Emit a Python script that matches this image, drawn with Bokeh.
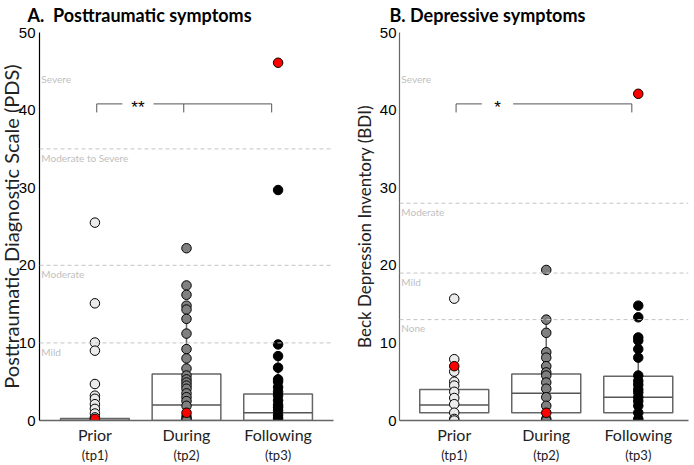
from bokeh.plotting import figure
from bokeh.models import Range1d, Span, Label, FixedTicker, LinearAxis
from bokeh.layouts import row
from bokeh.embed import file_html
from bokeh.resources import INLINE

categories = ["Prior", "During", "Following"]
timepoints = ["(tp1)", "(tp2)", "(tp3)"]
cat_x = [1, 2, 3]
y_ticks = [0, 10, 20, 30, 40, 50]

# ---- Panel A: PDS ----
pds_prior = [25.5, 15.1, 10.05, 9.0, 4.7, 3.2, 2.8, 2.1, 1.5, 0.9, 0.4, 0.0]
pds_during = [22.2, 17.4, 16.2, 14.8, 14.3, 13.1, 11.2, 9.2, 8.0, 6.7, 5.8, 5.3,
              4.9, 4.5, 4.1, 3.5, 3.0, 2.5, 1.9, 0.5, 0.2, 0.0]
pds_following = [29.7, 9.8, 8.3, 6.8, 5.3, 5.0, 4.3, 3.7, 3.2, 2.6, 2.0, 1.7,
                 1.3, 0.7, 0.3, 0.0]
pds_red = [0.2, 1.0, 46.1]
pds_q1 = [0.0, 0.0, 0.0]
pds_median = [0.0, 2.0, 1.0]
pds_q3 = [0.25, 6.0, 3.4]
pds_whisker_hi = [0.5, 14.8, 8.3]
pds_whisker_lo = [0.0, 0.0, 0.0]
pds_cutoffs = [10, 20, 35]
pds_cutoff_labels = ["Mild", "Moderate", "Moderate to Severe", "Severe"]
pds_sig = "**"

# ---- Panel B: BDI ----
bdi_prior = [15.7, 7.9, 6.3, 5.0, 4.5, 3.7, 2.9, 2.1, 1.0, 0.2, 0.0]
bdi_during = [19.4, 13.0, 11.3, 8.8, 8.1, 7.0, 6.2, 5.8, 4.9, 4.1, 3.0, 1.9, 0.2, 0.0]
bdi_following = [14.8, 13.3, 10.7, 10.3, 9.2, 8.1, 5.8, 5.1, 4.6, 4.0, 3.6, 3.0,
                 2.5, 1.9, 1.0, 0.2, 0.0]
bdi_red = [7.0, 1.0, 42.1]
bdi_q1 = [1.0, 1.0, 1.0]
bdi_median = [2.0, 3.5, 3.0]
bdi_q3 = [4.0, 6.0, 5.7]
bdi_whisker_hi = [7.9, 13.0, 10.7]
bdi_whisker_lo = [0.0, 0.0, 0.0]
bdi_cutoffs = [13, 19, 28]
bdi_cutoff_labels = ["None", "Mild", "Moderate", "Severe"]
bdi_sig = "*"

FILLS = ["#ebebeb", "#808080", "#000000"]
LABEL_FONT = "Lato"


def make_panel(width, border_left, border_right, xr, title, title_offset, ylabel,
               ylabel_size, ylabel_standoff, tick_standoff, groups, red, q1, med, q3,
               whi, wlo, cutoffs, cutoff_labels, sig, bracket_mid, yaxis_color):
    p = figure(width=width, height=472, output_backend="svg", toolbar_location=None,
               x_range=Range1d(*xr), y_range=Range1d(0, 50),
               min_border_left=border_left, min_border_right=border_right,
               min_border_top=39, min_border_bottom=43)
    p.outline_line_color = None
    p.xgrid.visible = False
    p.ygrid.visible = False

    # title
    p.title.text = title
    p.title.text_font = LABEL_FONT
    p.title.text_font_size = "18px"
    p.title.text_font_style = "bold"
    p.title.text_color = "black"
    p.title.align = "left"
    p.title.offset = title_offset - 7
    p.title.standoff = 0
    p.title.padding = 7

    # cutoff lines + labels
    for c in cutoffs:
        p.add_layout(Span(location=c, dimension="width", line_color="#c4c4c4",
                          line_dash="4 3", line_width=1))
    label_pos = list(cutoffs) + [45.1]
    for c, t in zip(label_pos, cutoff_labels):
        p.add_layout(Label(x=xr[0] + 0.02, y=c - 0.35, text=t, text_font=LABEL_FONT,
                           text_font_size="10px", text_color="#c0c0c0",
                           text_align="left", text_baseline="top"))

    # whiskers
    p.segment(x0=cat_x, y0=q3, x1=cat_x, y1=whi, line_color="#666666", line_width=1.5)
    p.segment(x0=cat_x, y0=q1, x1=cat_x, y1=wlo, line_color="#666666", line_width=1.5)
    # boxes
    bw = 0.75
    p.vbar(x=cat_x, width=bw, bottom=q1, top=q3, fill_color="white",
           line_color="#666666", line_width=1.5)
    p.segment(x0=[x - bw / 2 for x in cat_x], y0=med, x1=[x + bw / 2 for x in cat_x],
              y1=med, line_color="#555555", line_width=1.5)

    # points
    for x, vals, fc in zip(cat_x, groups, FILLS):
        p.scatter(x=[x] * len(vals), y=vals, size=9.5, fill_color=fc,
                  line_color="black", line_width=1)
    p.scatter(x=cat_x, y=red, size=9.5, fill_color="#ff0000", line_color="black",
              line_width=1)

    # significance bracket
    by, bt = 40.8, 39.7
    p.segment(x0=[1.02, 1.64], y0=[by, by], x1=[1.30, 2.93], y1=[by, by],
              line_color="#555555", line_width=1)
    ticks_x = [1.02, 2.93] + ([1.97] if bracket_mid else [])
    p.segment(x0=ticks_x, y0=[by] * len(ticks_x), x1=ticks_x, y1=[bt] * len(ticks_x),
              line_color="#555555", line_width=1)
    p.add_layout(Label(x=1.47, y=40.3, text=sig, text_font="Liberation Sans",
                       text_font_size="17px", text_color="black",
                       text_align="center", text_baseline="middle"))

    # y axis
    p.yaxis.ticker = FixedTicker(ticks=y_ticks)
    p.yaxis.major_tick_line_color = None
    p.yaxis.minor_tick_line_color = None
    p.yaxis.major_tick_out = 0
    p.yaxis.axis_line_color = yaxis_color
    p.yaxis.axis_line_width = 1.2
    p.yaxis.major_label_standoff = tick_standoff
    p.yaxis.major_label_text_font = "Liberation Sans"
    p.yaxis.major_label_text_font_size = "15px"
    p.yaxis.major_label_text_color = "black"
    p.yaxis.axis_label = ylabel
    p.yaxis.axis_label_text_font = LABEL_FONT
    p.yaxis.axis_label_text_font_size = ylabel_size
    p.yaxis.axis_label_text_font_style = "normal"
    p.yaxis.axis_label_text_color = "#222222"
    p.yaxis.axis_label_standoff = ylabel_standoff

    # x axis: category names
    xa = p.xaxis[0]
    xa.ticker = FixedTicker(ticks=cat_x)
    xa.major_label_overrides = {x: c for x, c in zip(cat_x, categories)}
    xa.major_tick_line_color = None
    xa.minor_tick_line_color = None
    xa.major_tick_out = 0
    xa.major_tick_in = 0
    xa.axis_line_color = "#666666"
    xa.axis_line_width = 1.5
    xa.major_label_standoff = 4
    xa.major_label_text_font = LABEL_FONT
    xa.major_label_text_font_size = "16px"
    xa.major_label_text_color = "#222222"

    # second x axis: time points
    xb = LinearAxis(ticker=FixedTicker(ticks=cat_x),
                    major_label_overrides={x: t for x, t in zip(cat_x, timepoints)})
    xb.axis_line_color = None
    xb.major_tick_line_color = None
    xb.minor_tick_line_color = None
    xb.major_tick_out = 0
    xb.major_tick_in = 0
    xb.major_label_standoff = 0
    xb.major_label_text_font = LABEL_FONT
    xb.major_label_text_font_size = "13px"
    xb.major_label_text_color = "#222222"
    p.add_layout(xb, "below")
    return p


pA = make_panel(359, 52, 13, (0.395, 3.605), "A.\u00a0 Posttraumatic symptoms", -12,
                "Posttraumatic Diagnostic Scale (PDS)", "20px", -7, 4,
                [pds_prior, pds_during, pds_following], pds_red,
                pds_q1, pds_median, pds_q3, pds_whisker_hi, pds_whisker_lo,
                pds_cutoffs, pds_cutoff_labels, pds_sig, True, "black")
pA.margin = (-7, 0, 0, -13)
pB = make_panel(348, 53, 6, (0.405, 3.546), "B. Depressive symptoms", -10,
                "Beck Depression Inventory (BDI)", "17px", 2, 3,
                [bdi_prior, bdi_during, bdi_following], bdi_red,
                bdi_q1, bdi_median, bdi_q3, bdi_whisker_hi, bdi_whisker_lo,
                bdi_cutoffs, bdi_cutoff_labels, bdi_sig, False, "#666666")
pB.margin = (-7, 0, 0, 0)

layout = row(pA, pB)
open("out.html", "w").write(file_html(layout, INLINE))
